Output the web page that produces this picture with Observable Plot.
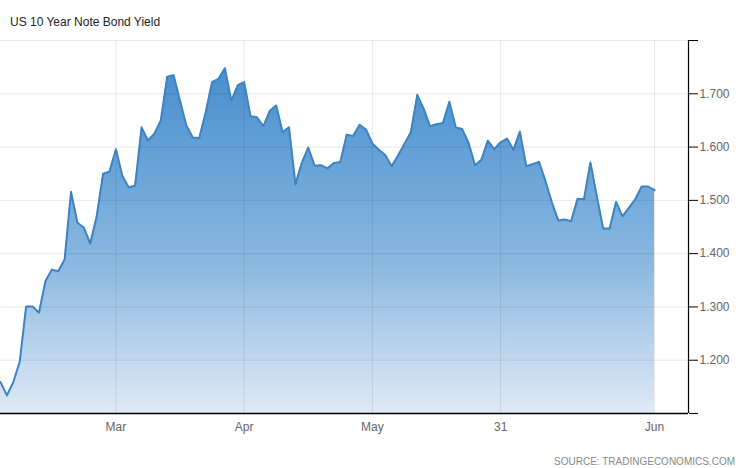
<!DOCTYPE html>
<html><head><meta charset="utf-8">
<script src="https://cdn.jsdelivr.net/npm/d3@7"></script>
<script src="https://cdn.jsdelivr.net/npm/@observablehq/plot@0.6"></script>
<style>
body{margin:0;background:#fff;}
#wrap{position:relative;width:746px;height:468px;font-family:"Liberation Sans",Arial,sans-serif;overflow:hidden;}
#title{position:absolute;left:10px;top:15px;font-size:12px;color:#222;line-height:14px;white-space:nowrap;}
#source{position:absolute;right:11px;top:456px;font-size:10px;color:#888;line-height:12px;white-space:nowrap;}
#chart{position:absolute;left:0;top:0;}
</style></head><body>
<div id="wrap"><div id="chart"></div><div id="title">US 10 Year Note Bond Yield</div><div id="source">SOURCE: TRADINGECONOMICS.COM</div></div>
<script>
const yields = [
  1.159, 1.134, 1.159, 1.197, 1.301, 1.301, 1.289, 1.348, 1.370, 1.367,
  1.389, 1.516, 1.458, 1.449, 1.419, 1.470, 1.550, 1.554, 1.596, 1.546,
  1.524, 1.528, 1.637, 1.612, 1.625, 1.650, 1.732, 1.735, 1.687, 1.640,
  1.618, 1.617, 1.665, 1.722, 1.728, 1.748, 1.687, 1.716, 1.722, 1.658,
  1.656, 1.639, 1.668, 1.678, 1.628, 1.637, 1.530, 1.571, 1.599, 1.565,
  1.566, 1.560, 1.570, 1.572, 1.623, 1.621, 1.642, 1.633, 1.607, 1.595,
  1.585, 1.564, 1.584, 1.606, 1.628, 1.698, 1.672, 1.639, 1.643, 1.645,
  1.685, 1.637, 1.634, 1.608, 1.566, 1.576, 1.612, 1.596, 1.609, 1.616,
  1.595, 1.629, 1.564, 1.568, 1.572, 1.536, 1.496, 1.462, 1.464, 1.461,
  1.503, 1.502, 1.571, 1.508, 1.447, 1.447, 1.497, 1.470, 1.486, 1.502,
  1.526, 1.526, 1.519
];
const xTickIndex = [18, 38, 58, 78, 102];
const xTickLabels = ["Mar", "Apr", "May", "31", "Jun"];
const yTicks = [1.2, 1.3, 1.4, 1.5, 1.6, 1.7];
const yAllTicks = [1.1, 1.2, 1.3, 1.4, 1.5, 1.6, 1.7, 1.8];
const yDomain = [1.1, 1.8];
const xDomain = [0, 107.3];

const data = yields.map((v, i) => ({i, v}));
const labelOf = new Map(xTickIndex.map((t, k) => [t, xTickLabels[k]]));

const chart = Plot.plot({
  width: 746,
  height: 468,
  marginTop: 40,
  marginBottom: 55,
  marginLeft: 0,
  marginRight: 58,
  style: {fontFamily: '"Liberation Sans", Arial, sans-serif', fontSize: "12px", background: "transparent", color: "#666"},
  x: {domain: xDomain, axis: null, label: null},
  y: {domain: yDomain, axis: null, label: null},
  marks: [
    Plot.areaY(data, {x: "i", y1: yDomain[0], y2: "v", fill: "url(#yieldGrad)"}),
    Plot.gridX(xTickIndex, {stroke: "black", strokeOpacity: 0.09}),
    Plot.gridY(yAllTicks.slice(1), {stroke: "black", strokeOpacity: 0.09}),
    Plot.lineY(data, {x: "i", y: "v", stroke: "#3b83c5", strokeWidth: 2, strokeLinejoin: "round"}),
    Plot.ruleX([xDomain[1]], {stroke: "black", strokeWidth: 1.2}),
    Plot.ruleY([yDomain[0]], {stroke: "black", strokeWidth: 1.5}),
    Plot.axisY(yAllTicks, {anchor: "right", label: null, tickSize: 9, tickPadding: 2, stroke: "black", fill: "#666",
      tickFormat: d => yTicks.some(t => Math.abs(t - d) < 1e-9) ? d3.format(".3f")(d) : ""}),
    Plot.axisX(xTickIndex, {anchor: "bottom", label: null, tickSize: 0, tickPadding: 9, fill: "#666",
      tickFormat: d => labelOf.get(d)})
  ]
});

const svg = d3.select(chart);
const defs = svg.insert("defs", ":first-child");
const lg = defs.append("linearGradient").attr("id", "yieldGrad")
  .attr("gradientUnits", "userSpaceOnUse")
  .attr("x1", 0).attr("x2", 0).attr("y1", 40).attr("y2", 413);
lg.append("stop").attr("offset", "0").attr("stop-color", "#3f88cc");
lg.append("stop").attr("offset", "0.6").attr("stop-color", "#8ab8e0");
lg.append("stop").attr("offset", "1").attr("stop-color", "#dfeaf6");

document.getElementById("chart").appendChild(chart);
</script>
</body></html>
